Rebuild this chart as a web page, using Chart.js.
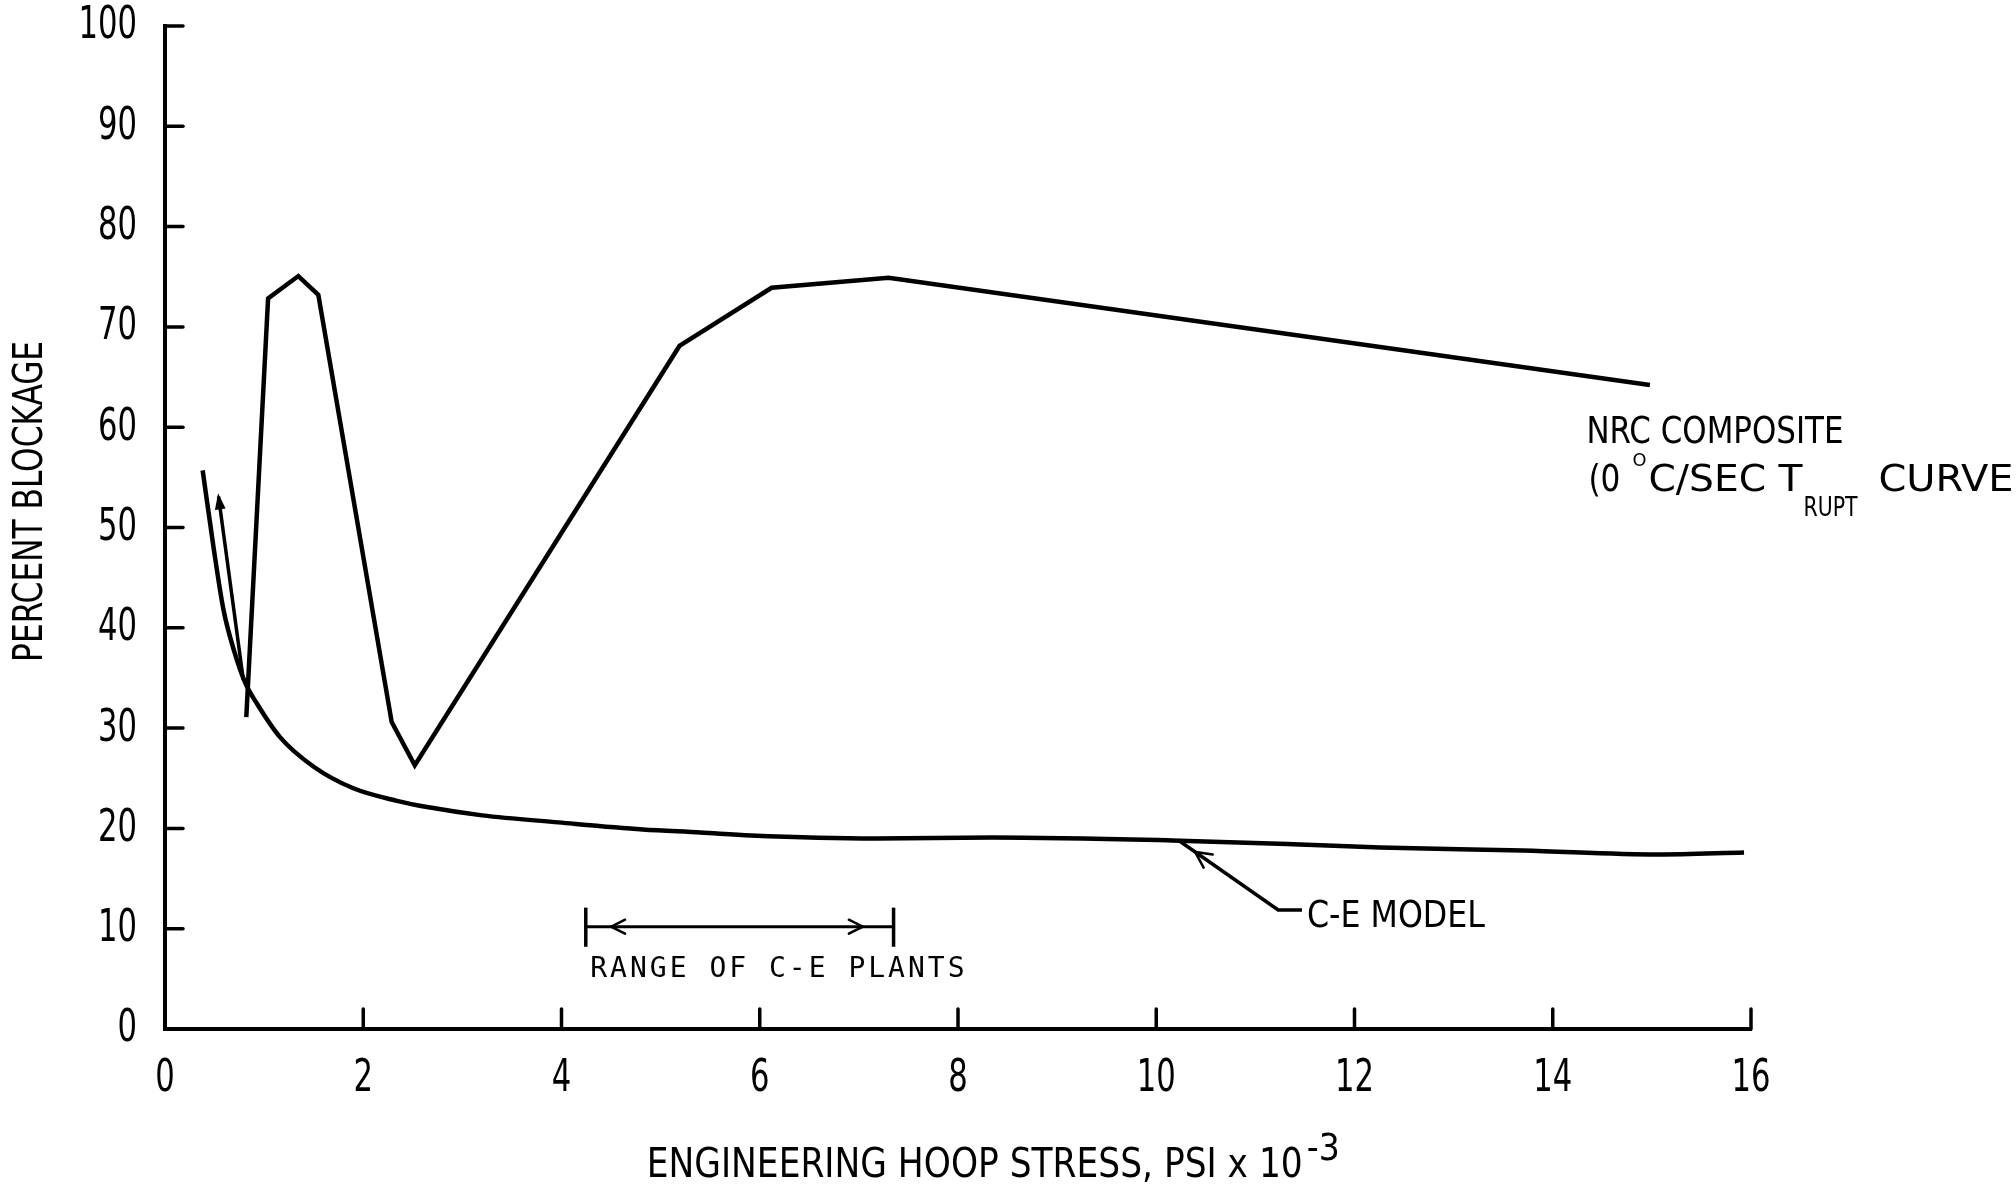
<!DOCTYPE html>
<html>
<head>
<meta charset="utf-8">
<title>Percent blockage vs engineering hoop stress</title>
<script src="https://cdn.jsdelivr.net/npm/chart.js@4.4.1/dist/chart.umd.min.js"></script>
<style>
	html, body { margin: 0; padding: 0; background: #fff; }
	canvas { display: block; }
</style>
</head>
<body>
<canvas id="chart" width="2016" height="1185"></canvas>
<script>
// Tick values of both axes.
const stressTicks = [0, 2, 4, 6, 8, 10, 12, 14, 16];
const blockageTicks = [0, 10, 20, 30, 40, 50, 60, 70, 80, 90, 100];

// C-E model curve (stress in psi x 10^-3, blockage in %).
const ceStress = [0.38, 0.49, 0.59, 0.70, 0.81, 0.93, 1.16, 1.50, 1.90, 2.34, 2.66, 3.2, 3.97, 4.82, 5.4, 5.91, 7.17, 8.35, 10.16, 11.45, 12.26, 13.7, 15.06, 15.93];
const ceBlockage = [55.7, 48.0, 41.8, 37.6, 34.5, 32.4, 29.1, 26.15, 24.0, 22.75, 22.1, 21.3, 20.6, 19.9, 19.6, 19.3, 19.0, 19.1, 18.8, 18.4, 18.1, 17.8, 17.4, 17.6];

// NRC composite (0 C/sec T rupt) curve.
const nrcStress = [0.82, 1.04, 1.345, 1.547, 2.287, 2.52, 5.19, 6.12, 7.30, 14.98];
const nrcBlockage = [31.1, 72.85, 75.07, 73.2, 30.6, 26.3, 68.1, 73.9, 74.9, 64.2];

// Pointer line on the left, and the leader line of the C-E MODEL label.
const pointerStress = [0.54, 0.79];
const pointerBlockage = [53.1, 34.8];
const leaderStress = [10.22, 11.23, 11.47];
const leaderBlockage = [18.84, 11.86, 11.86];

// Range of C-E plants bracket.
const rangeStress = [4.245, 7.35];
const rangeBlockage = [10.2, 10.2];
const rangeCapBlockage = [8.2, 12.1];

// The figure is lettered with a tall, narrow face: draw text squeezed to the measured widths.
const FACE = '"DejaVu Sans Condensed", "DejaVu Sans", sans-serif';

// Analogous to python's zip function, gives {x, y} points.
const toPoints = (xs, ys) => xs.map((x, i) => ({ x: x, y: ys[i] }));

function lineSet(points, width, extra) {
	return Object.assign({
		data: points,
		showLine: true,
		borderColor: '#000',
		borderWidth: width,
		pointRadius: 0,
		tension: 0,
		fill: false
	}, extra || {});
}

// Write text at (x, y) squeezed or stretched so that it is `width` pixels wide.
function fitText(ctx, text, x, y, size, width, align) {
	ctx.font = size + 'px ' + FACE;
	const sx = width / ctx.measureText(text).width;
	ctx.save();
	ctx.translate(x, y);
	ctx.scale(sx, 1);
	ctx.textAlign = align || 'left';
	ctx.fillText(text, 0, 0);
	ctx.restore();
}

// Draws a chevron (or filled triangle) whose tip is at (x, y), pointing along angle.
function arrowHead(ctx, x, y, angle, len, half, filled) {
	const bx = x - Math.cos(angle) * len;
	const by = y - Math.sin(angle) * len;
	const px = -Math.sin(angle) * half;
	const py = Math.cos(angle) * half;
	ctx.beginPath();
	ctx.moveTo(bx + px, by + py);
	ctx.lineTo(x, y);
	ctx.lineTo(bx - px, by - py);
	if (filled) {
		ctx.closePath();
		ctx.fill();
	}
	ctx.stroke();
}

const markup = {
	id: 'markup',
	afterDatasetsDraw(chart) {
		const ctx = chart.ctx;
		const xs = chart.scales.x;
		const ys = chart.scales.y;
		const area = chart.chartArea;
		const px = v => xs.getPixelForValue(v);
		const py = v => ys.getPixelForValue(v);

		ctx.save();
		ctx.strokeStyle = '#000';
		ctx.fillStyle = '#000';
		ctx.lineCap = 'round';

		// Tick marks pointing into the plot.
		ctx.lineWidth = 3.5;
		for (const v of stressTicks.slice(1)) {
			ctx.beginPath();
			ctx.moveTo(px(v), area.bottom);
			ctx.lineTo(px(v), area.bottom - 20);
			ctx.stroke();
		}
		for (const v of blockageTicks.slice(1)) {
			ctx.beginPath();
			ctx.moveTo(area.left, py(v));
			ctx.lineTo(area.left + 18, py(v));
			ctx.stroke();
		}

		// Tick labels, taken from the scales' own ticks.
		ctx.textBaseline = 'middle';
		for (const t of xs.ticks) {
			const label = String(t.value);
			fitText(ctx, label, px(t.value), area.bottom + 51, 44, 19.5 * label.length, 'center');
		}
		for (const t of ys.ticks) {
			const label = String(t.value);
			fitText(ctx, label, area.left - 28, py(t.value) + 1, 44, 19.5 * label.length, 'right');
		}

		// Arrowheads of the range bracket.
		ctx.lineWidth = 2.5;
		arrowHead(ctx, px(4.5), py(rangeBlockage[0]), Math.PI, 14, 7, false);
		arrowHead(ctx, px(7.04), py(rangeBlockage[0]), 0, 14, 7, false);

		// Arrowhead on the C-E MODEL leader, pointing back to the curve.
		const lx0 = px(leaderStress[0]), ly0 = py(leaderBlockage[0]);
		const lx1 = px(leaderStress[1]), ly1 = py(leaderBlockage[1]);
		const la = Math.atan2(ly0 - ly1, lx0 - lx1);
		arrowHead(ctx, lx0 + (lx1 - lx0) * 0.17, ly0 + (ly1 - ly0) * 0.17, la, 16, 8, false);

		// Filled arrowhead at the top of the pointer line.
		const ax0 = px(pointerStress[0]), ay0 = py(pointerBlockage[0]);
		const ax1 = px(pointerStress[1]), ay1 = py(pointerBlockage[1]);
		ctx.lineWidth = 2;
		arrowHead(ctx, ax0, ay0, Math.atan2(ay0 - ay1, ax0 - ax1), 12, 4, true);

		// Curve labels.
		ctx.textBaseline = 'alphabetic';
		const nx = px(14.34);
		fitText(ctx, 'NRC COMPOSITE', nx, py(58.4), 37, 257);
		const ny = py(53.6);
		fitText(ctx, '(0', nx + 2, ny, 38, 32);
		fitText(ctx, 'O', nx + 46, ny - 25, 17, 14);
		fitText(ctx, 'C/SEC T', nx + 62, ny, 38, 154);
		fitText(ctx, 'RUPT', nx + 217, ny + 25, 26, 54);
		fitText(ctx, 'CURVE', nx + 292, ny, 38, 135);

		fitText(ctx, 'C-E MODEL', px(11.52), py(10.2), 38, 178);

		ctx.font = '28px "DejaVu Sans Mono", monospace';
		ctx.letterSpacing = '3px';
		ctx.fillText('RANGE OF C-E PLANTS', px(4.29), py(5.2));
		ctx.letterSpacing = '0px';

		// Axis titles.
		const tx = px(4.86), ty = area.bottom + 148;
		fitText(ctx, 'ENGINEERING HOOP STRESS, PSI x 10', tx, ty, 41, 656);
		fitText(ctx, '-3', tx + 660, ty - 17, 38, 33);

		ctx.translate(area.left - 133, py(52.6));
		ctx.rotate(-Math.PI / 2);
		ctx.textBaseline = 'middle';
		fitText(ctx, 'PERCENT BLOCKAGE', 0, 0, 40, 321, 'center');
		ctx.restore();
	}
};

function axis(min, max, values, fit) {
	return {
		type: 'linear',
		min: min,
		max: max,
		afterBuildTicks: scale => { scale.ticks = values.map(v => ({ value: v })); },
		afterFit: scale => {
			fit(scale);
			scale.paddingTop = scale.paddingBottom = scale.paddingLeft = scale.paddingRight = 0;
		},
		grid: { display: false },
		border: { display: true, color: '#000', width: 4 },
		ticks: { display: false }
	};
}

new Chart(document.querySelector('#chart').getContext('2d'), {
	type: 'scatter',
	data: {
		datasets: [
			lineSet(toPoints(nrcStress, nrcBlockage), 4.5),
			lineSet(toPoints(ceStress, ceBlockage), 4.5, { cubicInterpolationMode: 'monotone' }),
			lineSet(toPoints(pointerStress, pointerBlockage), 3.5),
			lineSet(toPoints(leaderStress, leaderBlockage), 3.5),
			lineSet(toPoints(rangeStress, rangeBlockage), 3),
			lineSet(toPoints([rangeStress[0], rangeStress[0]], rangeCapBlockage), 3.5),
			lineSet(toPoints([rangeStress[1], rangeStress[1]], rangeCapBlockage), 3.5)
		]
	},
	options: {
		responsive: false,
		animation: false,
		layout: { padding: { top: 26, right: 265, left: 0, bottom: 0 } },
		plugins: {
			legend: { display: false },
			tooltip: { enabled: false }
		},
		scales: {
			x: axis(0, 16, stressTicks, scale => { scale.height = 156; }),
			y: axis(0, 100, blockageTicks, scale => { scale.width = 165; })
		}
	},
	plugins: [markup]
});
</script>
</body>
</html>
